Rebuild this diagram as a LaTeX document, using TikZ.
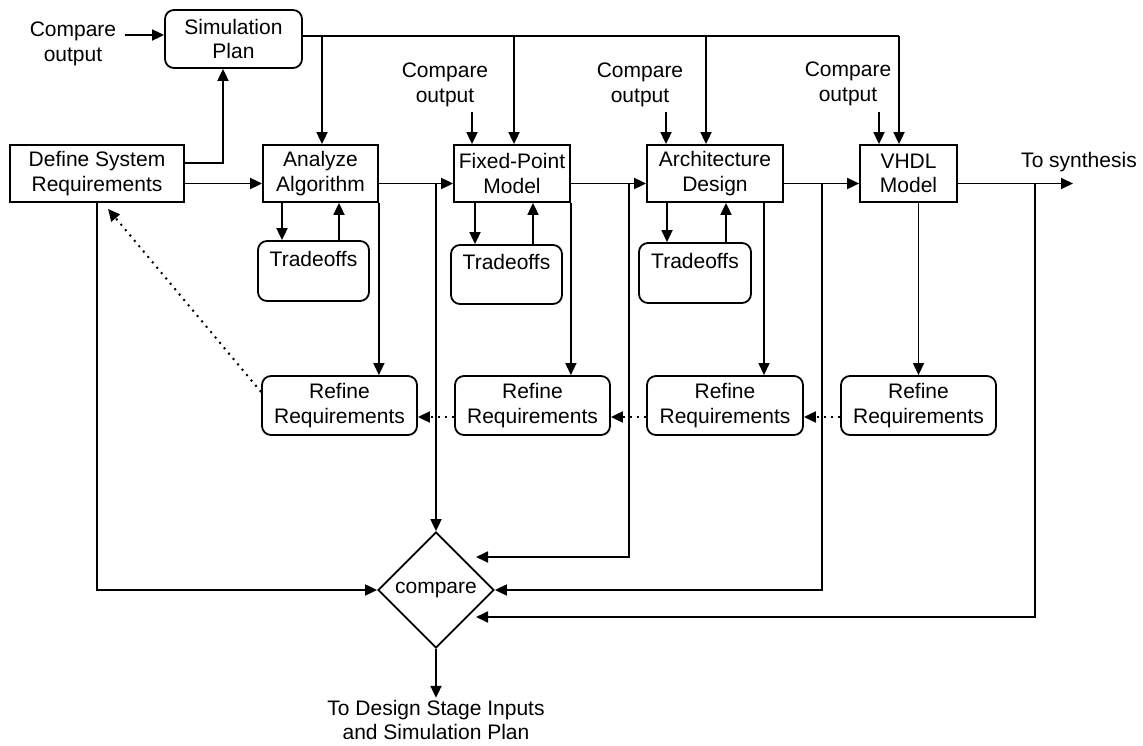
\documentclass[tikz,border=0pt]{standalone}
\usepackage{fontspec}
\setmainfont{Liberation Sans}
\usetikzlibrary{arrows.meta,shapes.geometric,calc}
\begin{document}
\begin{tikzpicture}[x=1pt,y=-1pt,
  font=\fontsize{21}{24.5}\selectfont,
  box/.style={draw, line width=1.8pt, minimum height=57pt, inner sep=0pt, align=center},
  rbox/.style={box, rounded corners=9pt},
  lbl/.style={align=center, inner sep=2pt},
  ln/.style={line width=1.8pt},
  arr/.style={ln, -{Triangle[length=12pt,width=11pt]}},
  tarr/.style={line width=1.3pt, -{Triangle[length=12pt,width=11pt]}},
  dot/.style={line width=2pt, dash pattern=on 2pt off 5pt, -{Triangle[length=12pt,width=11pt]}}]
\useasboundingbox (0,0) rectangle (1143,746);

% nodes
\node[rbox, minimum width=137pt, minimum height=58pt] (plan) at (233.5,39) {Simulation\\Plan};
\node[lbl] (c0) at (73,44) {Compare\\output};
\node[box, minimum width=174pt] (def) at (97,173.5) {Define System\\Requirements};
\node[box, minimum width=115pt] (ana) at (320.5,173.5) {Analyze\\Algorithm};
\node[box, minimum width=116pt] (fix) at (512,173.5) {Fixed-Point\\Model};
\node[box, minimum width=136pt] (arc) at (715,173.5) {Architecture\\Design};
\node[box, minimum width=97pt] (vhd) at (908.5,173.5) {VHDL\\Model};

\node[lbl] (c1) at (445,85) {Compare\\output};
\node[lbl] (c2) at (640,85) {Compare\\output};
\node[lbl] (c3) at (848,84) {Compare\\output};

\node[rbox, minimum width=111pt, minimum height=60pt] (t1) at (313.5,271) {Tradeoffs\\\mbox{}};
\node[rbox, minimum width=111pt, minimum height=59pt] (t2) at (506.5,274.5) {Tradeoffs\\\mbox{}};
\node[rbox, minimum width=112pt, minimum height=60pt] (t3) at (695,273) {Tradeoffs\\\mbox{}};

\node[rbox, minimum width=155pt, minimum height=59pt] (r1) at (339.5,405.5) {Refine\\Requirements};
\node[rbox, minimum width=155pt, minimum height=59pt] (r2) at (532.5,405.5) {Refine\\Requirements};
\node[rbox, minimum width=156pt, minimum height=59pt] (r3) at (725,405.5) {Refine\\Requirements};
\node[rbox, minimum width=155pt, minimum height=59pt] (r4) at (918.5,405.5) {Refine\\Requirements};

\node[draw, diamond, line width=1.8pt, minimum width=116pt, minimum height=116pt, inner sep=0pt] (cmp) at (436,590) {compare};

\node[lbl] (syn) at (1079,162) {To synthesis};
\node[lbl] (out) at (436,720) {To Design Stage Inputs\\and Simulation Plan};

% coordinates
\coordinate (flow) at (0,183.5);
\coordinate (c0out) at (125,35);
\coordinate (d1) at (322,36);
\coordinate (d2) at (514,36);
\coordinate (d3) at (706,36);
\coordinate (d4) at (899,36);
\coordinate (e1) at (472,112);
\coordinate (e2) at (666,112);
\coordinate (e3) at (879,112);
\coordinate (a1d) at (282,0);
\coordinate (a1u) at (339,0);
\coordinate (a2d) at (475,0);
\coordinate (a2u) at (533,0);
\coordinate (a3d) at (667,0);
\coordinate (a3u) at (726,0);
\coordinate (f3) at (764,0);
\coordinate (synend) at (1073,183.5);
\coordinate (v2) at (629,183.5);
\coordinate (v3) at (822,183.5);
\coordinate (v4) at (1035,183.5);

% top
\draw[arr] (c0out) -- (c0out -| plan.west);
\draw[arr] ([yshift=10.5pt]def.east) -| ([xshift=-10.5pt]plan.south);
\draw[ln] (plan.east |- d1) -- (d4);
\draw[arr] (d1) -- (d1 |- ana.north);
\draw[arr] (d2) -- (d2 |- fix.north);
\draw[arr] (d3) -- (d3 |- arc.north);
\draw[arr] (d4) -- (d4 |- vhd.north);
\draw[arr] (e1) -- (e1 |- fix.north);
\draw[arr] (e2) -- (e2 |- arc.north);
\draw[arr] (e3) -- (e3 |- vhd.north);

% main flow
\draw[arr] (def.east |- flow) -- (ana.west |- flow);
\draw[arr] (ana.east |- flow) -- (fix.west |- flow);
\draw[arr] (fix.east |- flow) -- (arc.west |- flow);
\draw[arr] (arc.east |- flow) -- (vhd.west |- flow);
\draw[arr] (vhd.east |- flow) -- (synend);

% tradeoffs
\draw[arr] (ana.south -| a1d) -- (t1.north -| a1d);
\draw[arr] (t1.north -| a1u) -- (ana.south -| a1u);
\draw[arr] (fix.south -| a2d) -- (t2.north -| a2d);
\draw[arr] (t2.north -| a2u) -- (fix.south -| a2u);
\draw[arr] (arc.south -| a3d) -- (t3.north -| a3d);
\draw[arr] (t3.north -| a3u) -- (arc.south -| a3u);

% refine
\draw[tarr] (ana.south east) -- (ana.south east |- r1.north);
\draw[tarr] (fix.south east) -- (fix.south east |- r2.north);
\draw[tarr] (arc.south -| f3) -- (r3.north -| f3);
\draw[tarr] (vhd.south -| r4.north) -- (r4.north);

\draw[dot] ([yshift=-11.5pt]r4.west) -- ([yshift=-11.5pt]r3.east);
\draw[dot] ([yshift=-11.5pt]r3.west) -- ([yshift=-11.5pt]r2.east);
\draw[dot] ([yshift=-11.5pt]r2.west) -- ([yshift=-11.5pt]r1.east);
\draw[dot] ([yshift=13.5pt]r1.west) -- ([xshift=11pt,yshift=-6pt]def.south);

% to compare
\draw[arr] (cmp.north |- flow) -- (cmp.north);
\draw[arr] (v2) |- ([xshift=40pt,yshift=33pt]cmp.center);
\draw[arr] (v3) |- (cmp.east);
\draw[arr] (v4) |- ([xshift=40pt,yshift=-27pt]cmp.center);
\draw[arr] (def.south) |- (cmp.west);
\draw[arr] (cmp.south) -- (out.north);
\end{tikzpicture}
\end{document}
